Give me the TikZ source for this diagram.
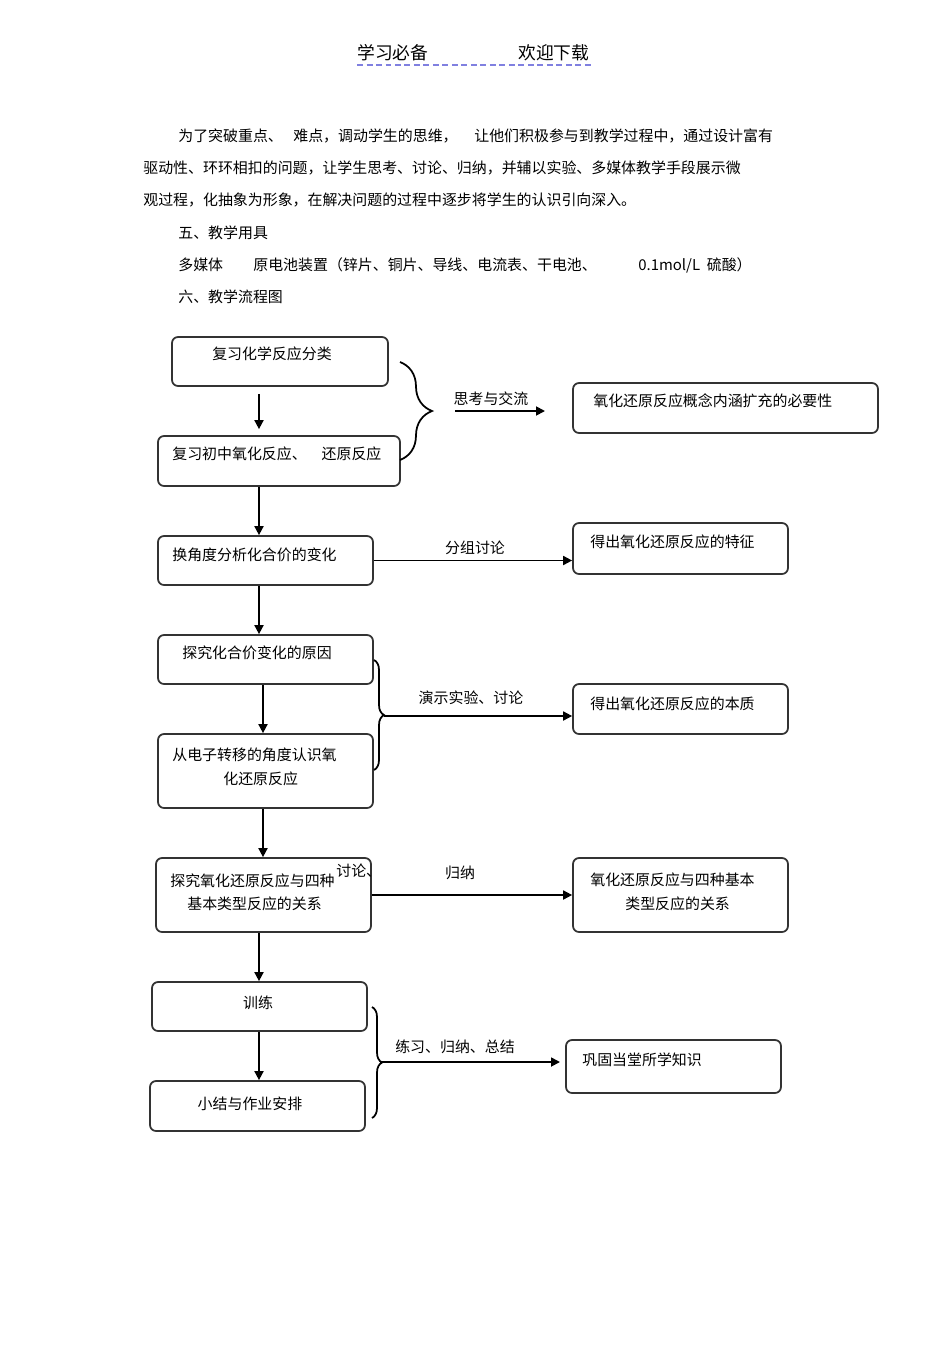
\documentclass[tikz,border=0pt]{standalone}
\usepackage{fontspec}
\setmainfont{Noto Sans CJK SC}
\usetikzlibrary{arrows.meta,decorations.pathreplacing}
\begin{document}
\begin{tikzpicture}[x=0.02cm,y=-0.02cm,
  font=\fontsize{8.5pt}{10pt}\selectfont,
  box/.style={draw=black!80, line width=0.035cm, rounded corners=0.12cm, inner sep=0pt},
  txt/.style={anchor=west, inner sep=0pt},
  lbl/.style={inner sep=0pt},
  arr/.style={line width=0.035cm, -{Triangle[length=0.18cm,width=0.18cm]}},
  brc/.style={line width=0.035cm, decorate, decoration={brace,amplitude=#1}}]

 % page
 \useasboundingbox[fill=white] (0,0) rectangle (950,1345);

 % header
 \node[txt, font=\fontsize{10.1pt}{12pt}\selectfont] (h1) at (357,53) {学习必备};
 \node[txt, font=\fontsize{10.1pt}{12pt}\selectfont] (h2) at (518,53) {欢迎下载};
 \coordinate (hl) at (357,65);
 \coordinate (hr) at (593,65);
 \draw[color={rgb,255:red,128;green,128;blue,224}, line width=0.04cm, dash pattern=on 0.12cm off 0.07cm] (hl) -- (hr);

 % text
 \node[txt] (p1a) at (178,136) {为了突破重点、};
 \node[txt] (p1b) at (293,136) {难点，调动学生的思维，};
 \node[txt] (p1c) at (474,136) {让他们积极参与到教学过程中，通过设计富有};
 \node[txt] (p2) at (143,168) {驱动性、环环相扣的问题，让学生思考、讨论、归纳，并辅以实验、多媒体教学手段展示微};
 \node[txt] (p3) at (143,200) {观过程，化抽象为形象，在解决问题的过程中逐步将学生的认识引向深入。};
 \node[txt] (p4) at (178,233) {五、教学用具};
 \node[txt] (p5a) at (178,265) {多媒体};
 \node[txt] (p5b) at (253,265) {原电池装置（锌片、铜片、导线、电流表、干电池、};
 \node[txt] (p5c) at (638,265) {0.1mol/L\ \ 硫酸）};
 \node[txt] (p6) at (178,297) {六、教学流程图};

 % boxes
 \node[box, minimum width=4.32cm, minimum height=0.98cm] (b1) at (280,361.5) {};
 \node[box, minimum width=4.84cm, minimum height=1.00cm] (b2) at (279,461) {};
 \node[box, minimum width=4.30cm, minimum height=0.98cm] (b3) at (265.5,560.5) {};
 \node[box, minimum width=4.30cm, minimum height=0.98cm] (b4) at (265.5,659.5) {};
 \node[box, minimum width=4.30cm, minimum height=1.48cm] (b5) at (265.5,771) {};
 \node[box, minimum width=4.30cm, minimum height=1.48cm] (b6) at (263.5,895) {};
 \node[box, minimum width=4.30cm, minimum height=0.98cm] (b7) at (259.5,1006.5) {};
 \node[box, minimum width=4.30cm, minimum height=1.00cm] (b8) at (257.5,1106) {};

 \node[box, minimum width=6.10cm, minimum height=1.00cm] (r1) at (725.5,408) {};
 \node[box, minimum width=4.30cm, minimum height=1.02cm] (r2) at (680.5,548.5) {};
 \node[box, minimum width=4.30cm, minimum height=1.00cm] (r3) at (680.5,709) {};
 \node[box, minimum width=4.30cm, minimum height=1.48cm] (r4) at (680.5,895) {};
 \node[box, minimum width=4.30cm, minimum height=1.06cm] (r5) at (673.5,1066.5) {};

 % box texts
 \node[lbl] (t1) at (272,354) {复习化学反应分类};
 \node[txt] (t2) at (172,454) {复习初中氧化反应、\hspace{1em}还原反应};
 \node[txt] (t3) at (172,555) {换角度分析化合价的变化};
 \node[txt] (t4) at (182,653) {探究化合价变化的原因};
 \node[txt] (t5a) at (172,755) {从电子转移的角度认识氧};
 \node[txt] (t5b) at (223,779) {化还原反应};
 \node[txt] (t6a) at (170,881) {探究氧化还原反应与四种};
 \node[txt] (t6b) at (187,904) {基本类型反应的关系};
 \node[lbl] (t7) at (258,1003) {训练};
 \node[lbl] (t8) at (250,1104) {小结与作业安排};

 \node[txt] (u1) at (593,401) {氧化还原反应概念内涵扩充的必要性};
 \node[txt] (u2) at (590,542) {得出氧化还原反应的特征};
 \node[txt] (u3) at (590,704) {得出氧化还原反应的本质};
 \node[txt] (u4a) at (590,880) {氧化还原反应与四种基本};
 \node[txt] (u4b) at (625,904) {类型反应的关系};
 \node[txt] (u5) at (582,1060) {巩固当堂所学知识};

 % spine
 \coordinate (sa) at (259,0);
 \coordinate (sb) at (263,0);
 \draw[arr, shorten <=0.14cm, shorten >=0.12cm] (b1.south -| sa) -- (b2.north -| sa);
 \draw[arr] (b2.south -| sa) -- (b3.north -| sa);
 \draw[arr] (b3.south -| sa) -- (b4.north -| sa);
 \draw[arr] (b4.south -| sb) -- (b5.north -| sb);
 \draw[arr] (b5.south -| sb) -- (b6.north -| sb);
 \draw[arr] (b6.south -| sa) -- (b7.north -| sa);
 \draw[arr] (b7.south -| sa) -- (b8.north -| sa);

 % braces
 \coordinate (k1a) at (400,362);
 \coordinate (k1b) at (400,460);
 \draw[brc=0.64cm] (k1a) -- (k1b);
 \coordinate (k2a) at (374,660);
 \coordinate (k2b) at (374,770);
 \draw[brc=0.2cm] (k2a) -- (k2b);
 \coordinate (k3a) at (372,1007);
 \coordinate (k3b) at (372,1118);
 \draw[brc=0.2cm] (k3a) -- (k3b);

 % side arrows
 \coordinate (m1a) at (455,411);
 \coordinate (m1b) at (545,411);
 \draw[arr] (m1a) -- (m1b);
 \draw[arr] (b3.east) -- (b3.east -| r2.west);
 \coordinate (m3) at (384,716);
 \draw[arr] (m3) -- (m3 -| r3.west);
 \draw[arr] (b6.east) -- (r4.west);
 \coordinate (m5) at (382,1062);
 \coordinate (m5b) at (560,1062);
 \draw[arr] (m5) -- (m5b);

 % arrow labels
 \node[lbl] (l1) at (491,399) {思考与交流};
 \node[lbl] (l2) at (475,548) {分组讨论};
 \node[lbl] (l3) at (471,698) {演示实验、讨论};
 \node[txt] (l4a) at (336,871) {讨论、};
 \node[lbl] (l4b) at (460,873) {归纳};
 \node[lbl] (l5) at (455,1047) {练习、归纳、总结};
\end{tikzpicture}
\end{document}
